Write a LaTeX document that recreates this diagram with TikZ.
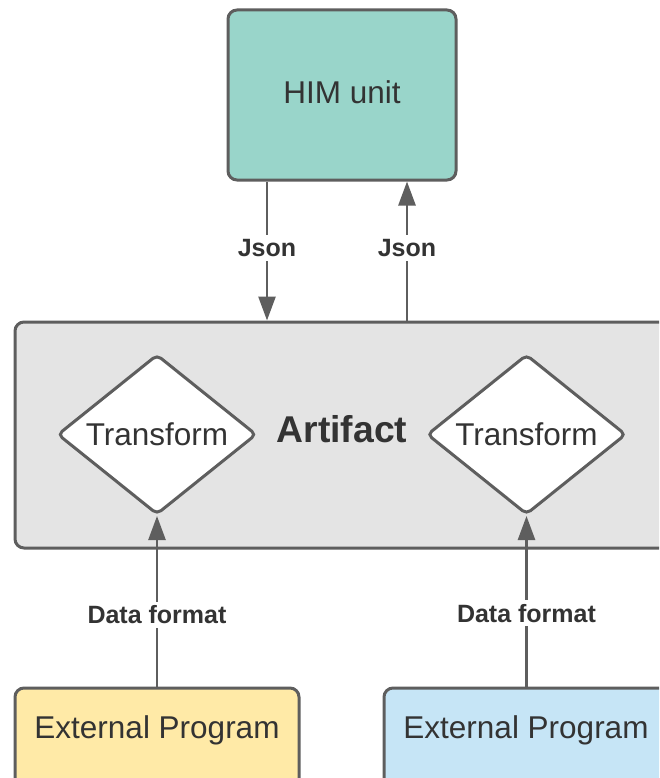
\documentclass[tikz,border=0pt]{standalone}
\usepackage{fontspec}
\setmainfont{Liberation Sans}
\usetikzlibrary{arrows.meta,shapes.geometric,calc}
\definecolor{strokec}{HTML}{5E5E5E}
\definecolor{txtc}{HTML}{333333}
\definecolor{himfill}{HTML}{99D5CA}
\definecolor{artfill}{HTML}{E4E4E4}
\definecolor{yelfill}{HTML}{FFEAA7}
\definecolor{bluefill}{HTML}{C6E5F6}
\begin{document}
\begin{tikzpicture}[x=1pt,y=-1pt,
  box/.style={draw=strokec, line width=3pt, rounded corners=9pt, inner sep=0pt, text=txtc},
  dia/.style={diamond, draw=strokec, fill=white, line width=3pt, rounded corners=5pt,
    aspect=1.245, minimum width=199pt, minimum height=160pt, inner sep=0pt, text=txtc,
    font=\fontsize{31.5}{36}\selectfont},
  arr/.style={draw=strokec, line width=2.6pt, -{Triangle[length=24pt,width=17pt]}},
  lbl/.style={fill=white, text=txtc, font=\bfseries\fontsize{25}{30}\selectfont, inner sep=4pt},
  big/.style={text=txtc, font=\fontsize{31.5}{36}\selectfont},
]
\useasboundingbox (0,0) rectangle (659,778);
\clip (0,0) rectangle (659,778);

% containers
\node[box, fill=himfill, minimum width=228pt, minimum height=170pt] (him) at (342,95) {};
\node[big] (himtxt) at (342,92.5) {HIM unit};

\node[box, fill=artfill, minimum width=654pt, minimum height=226pt] (artifact) at (342,435) {};
\node[text=txtc, font=\bfseries\fontsize{37.3}{42}\selectfont] (arttxt) at (342,429.5) {Artifact};

\node[dia] (d1) at (157,434.5) {Transform};
\node[dia] (d2) at (526.5,434.5) {Transform};

\node[box, fill=yelfill, minimum width=284pt, minimum height=100pt] (ep1) at (157,738) {};
\node[big] (ep1txt) at (157,730) {External Program};
\node[box, fill=bluefill, minimum width=284pt, minimum height=100pt] (ep2) at (526,738) {};
\node[big] (ep2txt) at (526,730) {External Program};

% connector x positions
\coordinate (jx1) at (267,0);
\coordinate (jx2) at (407,0);

\draw[arr] (him.south -| jx1) -- node[lbl, pos=0.48] {Json} (artifact.north -| jx1);
\draw[arr] (artifact.north -| jx2) -- node[lbl, pos=0.52] {Json} (him.south -| jx2);

\draw[arr] (ep1.north -| d1) -- node[lbl, pos=0.42] {Data format} (d1.south);
\draw[arr] (ep2.north -| d2) -- node[lbl, pos=0.43] {Data format} (d2.south);
\end{tikzpicture}
\end{document}
